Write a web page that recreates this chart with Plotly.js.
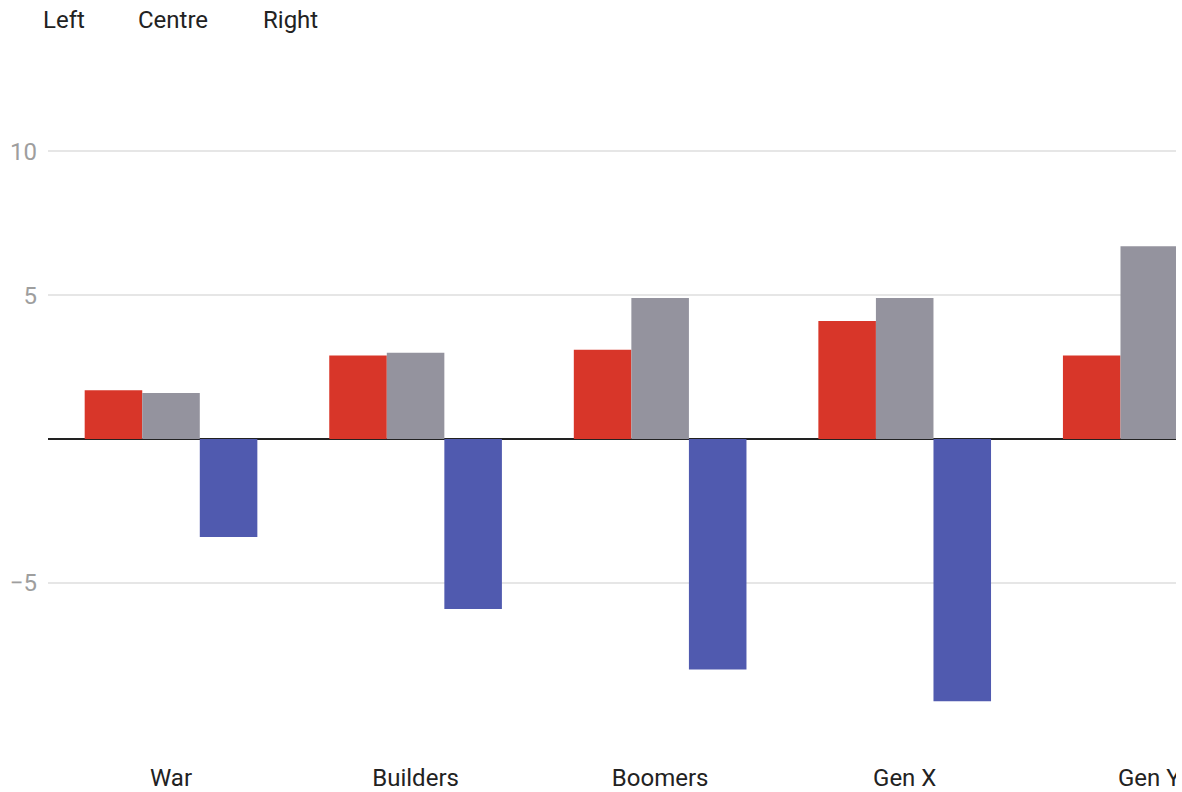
<!DOCTYPE html>
<html>
<head>
<meta charset="utf-8">
<script src="https://cdn.plot.ly/plotly-3.0.1.min.js"></script>
<style>html,body{margin:0;padding:0;background:#fff;}#wrap{width:1176px;height:792px;overflow:hidden;}#chart{width:1300px;height:792px;}</style>
</head>
<body>
<div id="wrap"><div id="chart"></div></div>
<script>
const categories = ["War", "Builders", "Boomers", "Gen X", "Gen Y"];
const seriesNames = ["Left", "Centre", "Right"];
const leftValues = [1.7, 2.9, 3.1, 4.1, 2.9];
const centreValues = [1.6, 3.0, 4.9, 4.9, 6.7];
const rightValues = [-3.4, -5.9, -8.0, -9.1, -9.5];
const colors = ["#D83629", "#94939E", "#505AAF"];

const allValues = [leftValues, centreValues, rightValues];
const traces = allValues.map((vals, i) => ({
  type: "bar",
  name: seriesNames[i],
  x: categories,
  y: vals,
  marker: {color: colors[i], line: {width: 0}},
  hoverinfo: "skip"
}));

const legendX = [-0.006, 0.0709, 0.1703];
const annotations = seriesNames.map((n, i) => ({
  text: n, xref: "paper", yref: "paper", x: legendX[i], y: 1.0896,
  xanchor: "left", yanchor: "middle", showarrow: false,
  font: {family: "Roboto", size: 24, color: "#222222"}
}));

const layout = {
  width: 1300, height: 792,
  margin: {l: 48, r: 4, t: 80, b: 37},
  paper_bgcolor: "#ffffff", plot_bgcolor: "#ffffff",
  font: {family: "Roboto", size: 24, color: "#222222"},
  barmode: "group", bargap: 0.294, bargroupgap: 0,
  showlegend: false,
  xaxis: {
    type: "category", range: [-0.503, 4.6],
    showgrid: false, showline: false, ticks: "", zeroline: false,
    ticklabelstandoff: 6,
    tickfont: {family: "Roboto", size: 24, color: "#222222"}
  },
  yaxis: {
    range: [-10.97, 12.47], tickvals: [-5, 5, 10],
    showgrid: true, gridcolor: "#e6e6e6", gridwidth: 2,
    zeroline: true, zerolinecolor: "#222222", zerolinewidth: 2,
    showline: false, ticks: "", ticklabelstandoff: 10,
    tickfont: {family: "Roboto", size: 24, color: "#9e9e9e"}
  },
  annotations: annotations
};

Plotly.newPlot("chart", traces, layout, {displayModeBar: false, staticPlot: true});
</script>
</body>
</html>
